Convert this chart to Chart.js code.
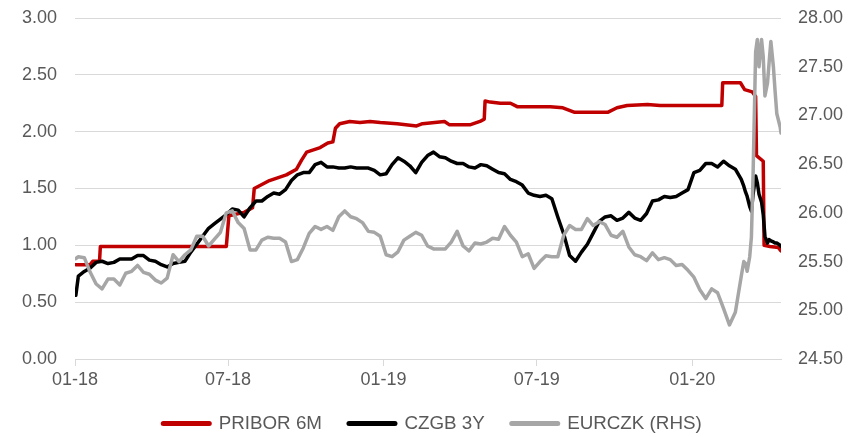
<!DOCTYPE html>
<html>
<head>
<meta charset="utf-8">
<script src="https://cdn.jsdelivr.net/npm/chart.js@4.4.1/dist/chart.umd.min.js"></script>
<style>
  html, body { margin: 0; padding: 0; background: #fff; }
</style>
</head>
<body>
<canvas id="chartCanvas" width="859" height="437"></canvas>
<script>
// x axis ticks
const tickDates = ["2018-01-01", "2018-07-01", "2019-01-01", "2019-07-01", "2020-01-01"];
const tickLabels = ["01-18", "07-18", "01-19", "07-19", "01-20"];

// CZGB 3Y and EURCZK share these dates (weekly, denser in March 2020)
const dates = [
  "2018-01-02",
  "2018-01-05", "2018-01-12", "2018-01-19", "2018-01-26",
  "2018-02-02", "2018-02-09", "2018-02-16", "2018-02-23",
  "2018-03-02", "2018-03-09", "2018-03-16", "2018-03-23", "2018-03-30",
  "2018-04-06", "2018-04-13", "2018-04-20", "2018-04-27",
  "2018-05-04", "2018-05-11", "2018-05-18", "2018-05-25",
  "2018-06-01", "2018-06-08", "2018-06-15", "2018-06-22", "2018-06-29",
  "2018-07-06", "2018-07-13", "2018-07-20", "2018-07-27",
  "2018-08-03", "2018-08-10", "2018-08-17", "2018-08-24", "2018-08-31",
  "2018-09-07", "2018-09-14", "2018-09-21", "2018-09-28",
  "2018-10-05", "2018-10-12", "2018-10-19", "2018-10-26",
  "2018-11-02", "2018-11-09", "2018-11-16", "2018-11-23", "2018-11-30",
  "2018-12-07", "2018-12-14", "2018-12-21", "2018-12-28",
  "2019-01-04", "2019-01-11", "2019-01-18", "2019-01-25",
  "2019-02-01", "2019-02-08", "2019-02-15", "2019-02-22",
  "2019-03-01", "2019-03-08", "2019-03-15", "2019-03-22", "2019-03-29",
  "2019-04-05", "2019-04-12", "2019-04-19", "2019-04-26",
  "2019-05-03", "2019-05-10", "2019-05-17", "2019-05-24", "2019-05-31",
  "2019-06-07", "2019-06-14", "2019-06-21", "2019-06-28",
  "2019-07-05", "2019-07-12", "2019-07-19", "2019-07-26",
  "2019-08-02", "2019-08-09", "2019-08-16", "2019-08-23", "2019-08-30",
  "2019-09-06", "2019-09-13", "2019-09-20", "2019-09-27",
  "2019-10-04", "2019-10-11", "2019-10-18", "2019-10-25",
  "2019-11-01", "2019-11-08", "2019-11-15", "2019-11-22", "2019-11-29",
  "2019-12-06", "2019-12-13", "2019-12-20", "2019-12-27",
  "2020-01-03", "2020-01-10", "2020-01-17", "2020-01-24", "2020-01-31",
  "2020-02-07", "2020-02-14", "2020-02-21", "2020-02-28",
  "2020-03-02", "2020-03-04", "2020-03-06", "2020-03-09", "2020-03-11",
  "2020-03-13", "2020-03-16", "2020-03-18", "2020-03-20", "2020-03-23",
  "2020-03-25", "2020-03-27", "2020-03-30", "2020-04-01", "2020-04-03",
  "2020-04-06", "2020-04-08", "2020-04-10", "2020-04-14", "2020-04-15"
];

const czgb3y = [
  0.56,
  0.73, 0.77, 0.80, 0.85, 0.86, 0.84, 0.85, 0.88, 0.88, 0.88,
  0.91, 0.91, 0.87, 0.86, 0.83, 0.81, 0.84, 0.85, 0.86, 0.94,
  1.01, 1.08, 1.15, 1.19, 1.23, 1.27, 1.32, 1.31, 1.25, 1.33,
  1.39, 1.39, 1.43, 1.46, 1.45, 1.49, 1.57, 1.62, 1.64, 1.64,
  1.71, 1.73, 1.69, 1.69, 1.68, 1.68, 1.69, 1.68, 1.68, 1.68,
  1.66, 1.62, 1.63, 1.71, 1.77, 1.74, 1.70, 1.64, 1.73, 1.79,
  1.82, 1.78, 1.77, 1.74, 1.72, 1.72, 1.69, 1.68, 1.71, 1.70,
  1.67, 1.64, 1.63, 1.58, 1.56, 1.53, 1.46, 1.44, 1.43, 1.44,
  1.41, 1.25, 1.10, 0.91, 0.86, 0.94, 1.01, 1.11, 1.21, 1.25,
  1.26, 1.22, 1.24, 1.29, 1.24, 1.22, 1.28, 1.39, 1.40, 1.43,
  1.42, 1.43, 1.46, 1.49, 1.64, 1.66, 1.72, 1.72, 1.69, 1.74,
  1.70, 1.67, 1.58,
  1.52, 1.47, 1.43, 1.34, 1.30, 1.45, 1.61, 1.55, 1.45, 1.38,
  1.27, 1.08, 1.02, 1.05, 1.04, 1.03, 1.02, 1.02, 1.00, 0.99
];

const eurczk = [
  25.53,
  25.55, 25.54, 25.39, 25.27, 25.22, 25.32, 25.32, 25.26, 25.38, 25.40,
  25.46, 25.39, 25.37, 25.31, 25.28, 25.33, 25.57, 25.50, 25.57, 25.62,
  25.76, 25.76, 25.66, 25.73, 25.80, 26.00, 26.02, 25.90, 25.84, 25.62,
  25.62, 25.72, 25.75, 25.74, 25.74, 25.70, 25.50, 25.52, 25.64, 25.79,
  25.86, 25.83, 25.86, 25.82, 25.96, 26.02, 25.96, 25.94, 25.90, 25.81,
  25.80, 25.76, 25.57, 25.55, 25.60, 25.72, 25.76, 25.80, 25.77, 25.66,
  25.63, 25.63, 25.63, 25.70, 25.81, 25.66, 25.61, 25.69, 25.68, 25.70,
  25.74, 25.73, 25.86, 25.77, 25.70, 25.55, 25.58, 25.43, 25.50, 25.56,
  25.55, 25.55, 25.77, 25.87, 25.83, 25.83, 25.94, 25.87, 25.91, 25.88,
  25.77, 25.75, 25.81, 25.65, 25.57, 25.55, 25.51, 25.59, 25.52, 25.54,
  25.52, 25.46, 25.47, 25.41, 25.34, 25.21, 25.12, 25.22, 25.18, 25.02,
  24.85, 24.98, 25.35,
  25.50, 25.48, 25.40, 25.55, 25.75, 26.40, 27.65, 27.78, 27.50, 27.78,
  27.60, 27.20, 27.33, 27.55, 27.76, 27.50, 27.25, 27.02, 26.88, 26.82
];

// PRIBOR 6M moves in steps, so it keeps its own dates
const priborDates = [
  "2018-01-02", "2018-01-19", "2018-01-22", "2018-01-30", "2018-01-31",
  "2018-06-29", "2018-07-02", "2018-07-20", "2018-07-30", "2018-08-01",
  "2018-08-19", "2018-09-08", "2018-09-20", "2018-09-26", "2018-10-02",
  "2018-10-18", "2018-10-27", "2018-11-02", "2018-11-05", "2018-11-10",
  "2018-11-22", "2018-12-04", "2018-12-16", "2018-12-28", "2019-01-17",
  "2019-02-09", "2019-02-16", "2019-03-14", "2019-03-20", "2019-04-13",
  "2019-04-25", "2019-04-30", "2019-05-01", "2019-05-07", "2019-05-19",
  "2019-05-31", "2019-06-08", "2019-07-17", "2019-08-01", "2019-08-15",
  "2019-09-23", "2019-10-04", "2019-10-16", "2019-11-09", "2019-11-24",
  "2020-02-05", "2020-02-06", "2020-02-27", "2020-03-03", "2020-03-12",
  "2020-03-16", "2020-03-17", "2020-03-25", "2020-03-26", "2020-04-02",
  "2020-04-12", "2020-04-15"
];
const pribor6m = [
  0.83, 0.83, 0.86, 0.86, 0.99,
  0.99, 1.26, 1.29, 1.33, 1.50,
  1.57, 1.62, 1.67, 1.75, 1.82,
  1.86, 1.90, 1.91, 2.03, 2.07,
  2.09, 2.08, 2.09, 2.08, 2.07,
  2.05, 2.07, 2.09, 2.06, 2.06,
  2.09, 2.11, 2.27, 2.26, 2.25,
  2.25, 2.22, 2.22, 2.21, 2.17,
  2.17, 2.21, 2.23, 2.24, 2.23,
  2.23, 2.43, 2.43, 2.37, 2.35,
  2.31, 1.79, 1.74, 1.00, 0.99,
  0.98, 0.95
];

const textColor = "#595959";
const gridColor = "#d9d9d9";
const tickFont = { family: "'Liberation Sans', Arial, sans-serif", size: 18 };

const toPoints = (xs, ys) => xs.map((d, i) => ({ x: Date.parse(d), y: ys[i] }));

// legend height is fixed so the plot keeps its place
const legendHeight = {
  id: "legendHeight",
  beforeLayout(chart) {
    const lg = chart.legend;
    if (lg && !lg.patched) {
      const fit = lg.fit;
      lg.fit = function () {
        fit.call(this);
        this.height = 50;
      };
      lg.patched = true;
    }
  }
};

new Chart(document.getElementById("chartCanvas"), {
  type: "line",
  data: {
    datasets: [
      {
        label: "PRIBOR 6M",
        data: toPoints(priborDates, pribor6m),
        borderColor: "#c00000",
        borderWidth: 3.5,
        yAxisID: "y",
        order: 2
      },
      {
        label: "CZGB 3Y",
        data: toPoints(dates, czgb3y),
        borderColor: "#000000",
        borderWidth: 3.5,
        yAxisID: "y",
        order: 1
      },
      {
        label: "EURCZK (RHS)",
        data: toPoints(dates, eurczk),
        borderColor: "#a6a6a6",
        borderWidth: 3.5,
        yAxisID: "y1",
        order: 0
      }
    ]
  },
  options: {
    responsive: false,
    devicePixelRatio: 1,
    animation: false,
    layout: { padding: { top: 18, left: 22, right: 16, bottom: 0 } },
    elements: {
      point: { radius: 0, hoverRadius: 0 },
      line: { tension: 0, borderJoinStyle: "round", borderCapStyle: "round", fill: false }
    },
    plugins: {
      tooltip: { enabled: false },
      legend: {
        position: "bottom",
        labels: {
          usePointStyle: true,
          pointStyleWidth: 46,
          padding: 27,
          color: textColor,
          font: { family: "'Liberation Sans', Arial, sans-serif", size: 18.8 },
          generateLabels: (chart) =>
            chart.data.datasets.map((ds, i) => ({
              text: ds.label,
              fillStyle: ds.borderColor,
              strokeStyle: ds.borderColor,
              lineWidth: 5,
              lineCap: "round",
              pointStyle: "line",
              fontColor: textColor,
              hidden: false,
              datasetIndex: i
            }))
        }
      }
    },
    scales: {
      x: {
        type: "linear",
        min: Date.parse("2018-01-01"),
        max: Date.parse("2020-04-15"),
        afterBuildTicks: (axis) => {
          axis.ticks = tickDates.map((d) => ({ value: Date.parse(d) }));
        },
        afterFit: (s) => { s.height = 28; },
        ticks: {
          autoSkip: false,
          maxRotation: 0,
          padding: 3,
          color: textColor,
          font: tickFont,
          callback: (v, i) => tickLabels[i]
        },
        grid: { drawOnChartArea: false, drawTicks: true, tickLength: 7, color: gridColor },
        border: { color: gridColor }
      },
      y: {
        position: "left",
        min: 0,
        max: 3,
        afterFit: (s) => { s.width = 53; },
        ticks: {
          stepSize: 0.5,
          padding: 0,
          crossAlign: "far",
          color: textColor,
          font: tickFont,
          callback: (v) => v.toFixed(2)
        },
        grid: { color: gridColor, drawTicks: false },
        border: { display: false }
      },
      y1: {
        position: "right",
        min: 24.5,
        max: 28,
        afterFit: (s) => { s.width = 62; },
        ticks: {
          stepSize: 0.5,
          padding: 0,
          crossAlign: "far",
          color: textColor,
          font: tickFont,
          callback: (v) => v.toFixed(2)
        },
        grid: { drawOnChartArea: false, drawTicks: false },
        border: { display: false }
      }
    }
  },
  plugins: [legendHeight]
});
</script>
</body>
</html>
